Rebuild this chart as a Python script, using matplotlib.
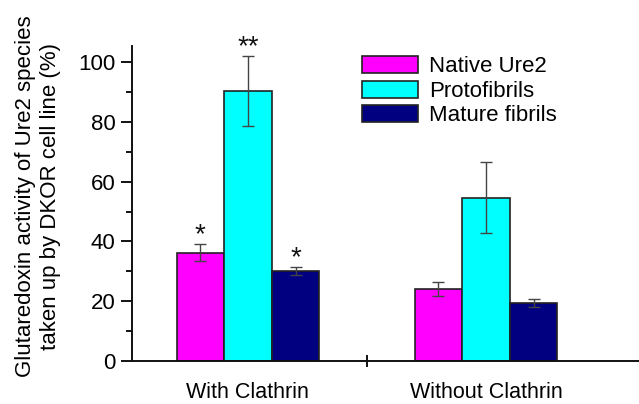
import matplotlib
matplotlib.use("Agg")
import matplotlib.pyplot as plt
import numpy as np

plt.rcParams['font.family'] = ['Liberation Sans', 'DejaVu Sans']

groups = ["With Clathrin", "Without Clathrin"]
species = ["Native Ure2", "Protofibrils", "Mature fibrils"]
colors = ["#FF00FF", "#00FFFF", "#000080"]

# mean activity (%) per species, one entry per group
native = [36.3, 24.1]
proto = [90.4, 54.6]
mature = [30.1, 19.4]
# error (±)
native_err = [2.8, 2.4]
proto_err = [11.8, 11.9]
mature_err = [1.4, 1.4]
# significance marks per species, one entry per group
native_sig = ["*", ""]
proto_sig = ["**", ""]
mature_sig = ["*", ""]

values = [native, proto, mature]
errors = [native_err, proto_err, mature_err]
sigs = [native_sig, proto_sig, mature_sig]

W, H = 639, 404
fig = plt.figure(figsize=(W / 100, H / 100), dpi=100)
ax = fig.add_axes([132 / W, 1 - 361 / H, 1 - 132 / W, (361 - 46) / H])

x = np.arange(len(groups))
width = 0.2
for i, (vals, errs, marks, c, name) in enumerate(zip(values, errors, sigs, colors, species)):
    pos = x + (i - 1) * width
    ax.bar(pos, vals, width, color=c, edgecolor="#222222", linewidth=1.2, label=name, zorder=2)
    ax.errorbar(pos, vals, yerr=errs, fmt="none", ecolor="#444444", elinewidth=1.0,
                capsize=4, capthick=1.0, zorder=3)
    for p, v, e, m in zip(pos, vals, errs, marks):
        if m:
            ax.text(p, v + e + 0.6, m, ha="center", va="baseline", fontsize=20,
                    color="#111111", clip_on=False)

ax.set_ylim(0, 105.4)
ax.set_xlim(-0.487, 1.643)
ax.set_yticks(np.arange(0, 101, 20))
ax.set_yticks(np.arange(10, 100, 20), minor=True)
ax.tick_params(axis="y", which="major", direction="out", length=8, width=1.3,
               labelsize=16, pad=4)
ax.tick_params(axis="y", which="minor", direction="out", length=4, width=1.3)

# group names under the bars, one tick between groups
ax.set_xticks([0.5])
ax.set_xticklabels([""])
ax.set_xticks(x, minor=True)
ax.set_xticklabels(groups, minor=True)
ax.tick_params(axis="x", which="major", direction="inout", length=9, width=1.3)
ax.tick_params(axis="x", which="minor", length=0, labelsize=15.5, pad=15)

for side in ("top", "right"):
    ax.spines[side].set_visible(False)
for side in ("left", "bottom"):
    ax.spines[side].set_linewidth(1.4)
    ax.spines[side].set_color("#111111")

fig.text(38 / W, 1 - 196 / H,
         "Glutaredoxin activity of Ure2 species\ntaken up by DKOR cell line (%)",
         rotation=90, ha="center", va="center", multialignment="center",
         fontsize=16, linespacing=1.2)

ax.legend(loc="upper left", bbox_to_anchor=(362 / W, 1 - 56 / H),
          bbox_transform=fig.transFigure, frameon=False, fontsize=16,
          handlelength=2.5, handleheight=0.8, handletextpad=0.5,
          labelspacing=0.15, borderpad=0, borderaxespad=0)

fig.savefig("out.png", dpi=100)
